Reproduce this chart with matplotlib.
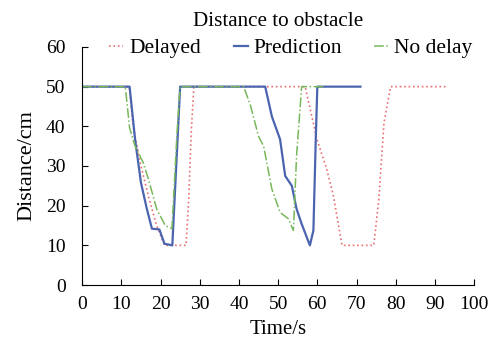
import matplotlib.pyplot as plt

# series (time in s, distance in cm)
delayed_t = [0, 12, 13, 15, 17, 19, 21, 26.5, 27.2, 27.8, 28.5, 56.9, 59.9, 62.4, 64.1, 66.3, 74.4, 75.7, 77, 78.7, 93]
delayed_d = [50, 50, 40, 30, 22, 15, 10, 10, 22, 38, 50, 50, 36.7, 29.2, 22.5, 10, 10, 21.7, 40.8, 50, 50]

prediction_t = [0, 12.1, 13.5, 15.0, 16.5, 17.8, 19.7, 21.0, 23.0, 24.0, 25.0, 46.7, 48.4, 50.5, 51.8, 53.5, 54.7, 56.0, 58.1, 59.0, 59.6, 60.0, 71]
prediction_d = [50, 50, 36.7, 25.8, 19.2, 14.2, 14.0, 10.4, 10, 30, 50, 50, 42.5, 36.7, 27.5, 25.0, 19.2, 15.4, 10, 13.75, 36.7, 50, 50]

nodelay_t = [0, 11.0, 12.1, 13.5, 15.6, 16.9, 19.0, 21.2, 22.9, 24.2, 25.0, 41.2, 42.9, 45.0, 46.3, 48.4, 50.5, 52.6, 53.9, 54.7, 56.0, 62]
nodelay_d = [50, 50, 39.6, 35.0, 30.8, 26.7, 19.2, 15.0, 14.2, 38.3, 50, 50, 45.4, 37.5, 35.0, 24.2, 18.3, 16.7, 13.75, 32.5, 50, 50]

plt.rcParams['font.family'] = 'Liberation Serif'
plt.rcParams['font.size'] = 14

fig = plt.figure(figsize=(4.98, 3.48), dpi=100)
ax = fig.add_axes([0.165, 0.181, 0.787, 0.684])

ax.plot(delayed_t, delayed_d, color='#e87070', linestyle=':', linewidth=1.2, label='Delayed')
ax.plot(prediction_t, prediction_d, color='#4a64b0', linestyle='-', linewidth=1.6, label='Prediction')
ax.plot(nodelay_t, nodelay_d, color='#78b85a', linestyle='-.', linewidth=1.1, label='No delay')

ax.set_xlim(0, 100)
ax.set_ylim(0, 60)
ax.set_xticks(range(0, 101, 10))
ax.set_yticks(range(0, 61, 10))
ax.tick_params(direction='in', length=4, width=0.8, labelsize=14)
ax.tick_params(axis='x', pad=8)
ax.tick_params(axis='y', pad=12)
ax.spines['top'].set_visible(False)
ax.spines['right'].set_visible(False)

ax.set_title('Distance to obstacle', fontsize=15.2, pad=15)
ax.set_xlabel('Time/s', fontsize=15, labelpad=5)
ax.set_ylabel('Distance/cm', fontsize=16, labelpad=7)

ax.legend(loc='center', bbox_to_anchor=(0.533, 0.995), ncol=3, frameon=False, fontsize=15.5,
          handlelength=0.65, handletextpad=0.28, columnspacing=1.5, borderpad=0)

fig.savefig('out.png', dpi=100)
